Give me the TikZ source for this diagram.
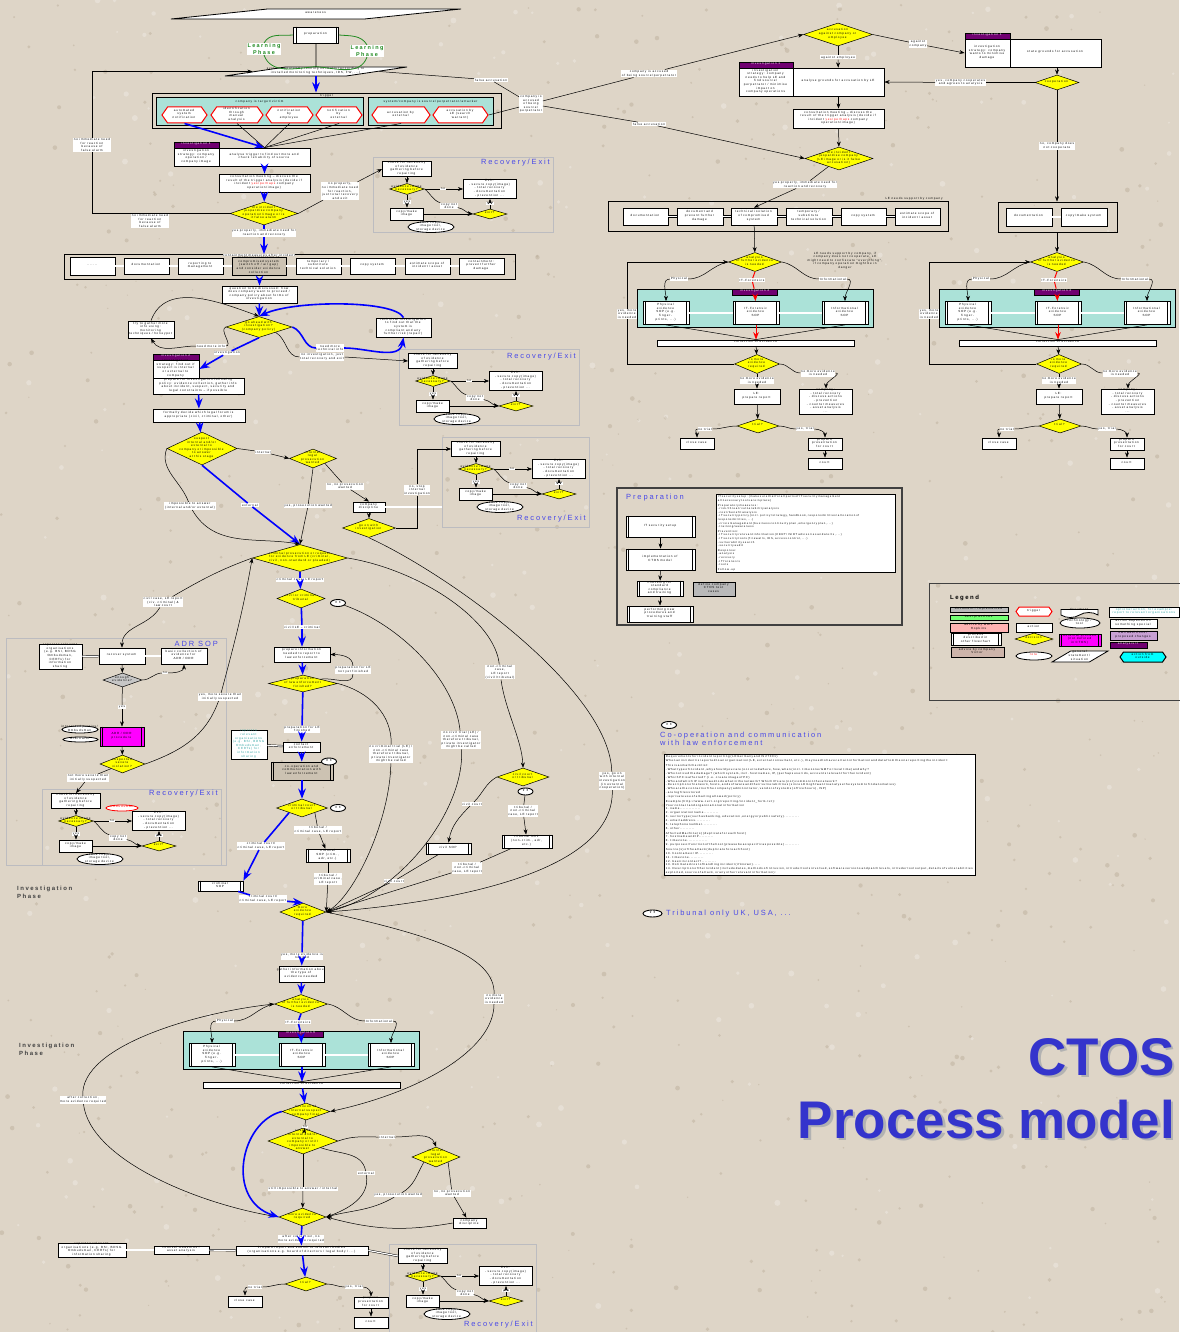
\documentclass[tikz,border=0pt]{standalone}
\usepackage{fontspec}
\setmainfont{Liberation Sans}[LetterSpace=25]
\newfontfamily\ctosfont{Liberation Sans}
\usepackage{tikz}
\usetikzlibrary{calc,arrows.meta,positioning,shapes.geometric,shapes.symbols,shapes.misc}
\definecolor{paper}{RGB}{222,213,199}
\definecolor{speck}{RGB}{186,172,152}
\definecolor{lagoon}{RGB}{171,226,216}
\definecolor{invhead}{RGB}{112,0,112}
\definecolor{ctosblue}{RGB}{52,52,204}
\definecolor{rxblue}{RGB}{72,72,232}
\definecolor{rxgray}{RGB}{188,188,192}
\definecolor{isolate}{RGB}{204,194,178}
\definecolor{learn}{RGB}{34,139,34}
\definecolor{optteal}{RGB}{40,160,160}
\definecolor{lilac}{RGB}{200,160,210}
\definecolor{victor}{RGB}{205,180,170}
\definecolor{decyellow}{RGB}{255,255,0}
\definecolor{procmag}{RGB}{255,0,255}
\definecolor{outside}{RGB}{0,255,255}

\newcommand\dia{\fontsize{3}{3.6}\selectfont}
% text inside a shape, kept out of its size (a 1pt strut keeps the shapes happy)
\newcommand\tx[1]{\smash{\makebox[0pt]{$\vcenter{\hbox{\begin{tabular}{@{}c@{}}#1\end{tabular}}}$}}\phantom{\rule{1pt}{1pt}}}

% recovery / exit block: name, x, y, width, height, title y
\newcommand\recovery[6]{%
  \begin{scope}[shift={({#2},{#3})}]
    \node[rxframe,wh={#4}{#5},anchor=north west] (#1) at (0,0) {};
    \node[rxtitle,anchor=east] (#1t) at ({#4-3},#6) {Recovery/Exit};
    \node[act,wh={49}{15}] (#1chk) at (34,12) {\tx{check for necessity\\of evidence\\gathering before\\repairing}};
    \node[dec,wh={35}{11}] (#1img) at (34,32) {\tx{evidence image\\necessary?}};
    \node[act,wh={53}{19}] (#1out) at (117,32) {\tx{Exit:\\- secure copy(image)\\- total recovery\\- documentation\\- prevention ...}};
    \node[act,wh={33}{12}] (#1cpy) at (34,57) {\tx{copy/make\\image}};
    \node[dec,wh={34}{10}] (#1ok) at (117,57) {\tx{exit?}};
    \node[tool,wh={46}{11}] (#1tool) at (58,70) {\tx{take copy/\\image tool,\\storage device}};
    \node[lbl] (#1no) at (70,32) {no};
    \node[lbl] (#1yes) at (34,45) {yes};
    \node[lbl] (#1nd) at (76,49) {copy not\\done};
    \node[lbl] (#1yx) at (117,46.5) {yes};
    \draw[cn,->] (#1chk) -- (#1img);
    \draw[cn] (#1img) -- (#1no);
    \draw[cn,->] (#1no) -- (#1out);
    \draw[cn] (#1img) -- (#1yes);
    \draw[cn,->] (#1yes) -- (#1cpy);
    \draw[cn] (#1img.east) to[out=-40,in=160] (#1nd);
    \draw[cn,->] (#1nd) to[out=-10,in=170] (#1ok.west);
    \draw[cn,->] (#1cpy) -- (#1ok);
    \draw[cn] (#1ok) -- (#1yx);
    \draw[cn,->] (#1yx) -- (#1out);
  \end{scope}}

% evidence analysis block: name, x, y, header, style of the middle line
\newcommand\analysis[5]{%
  \begin{scope}[shift={({#2},{#3})}]
    \node[pool,wh={236}{38}] (#1pool) at (0,46) {};
    \node[dec,wh={53}{19}] (#1) at (0,0) {\tx{analysis\\of further evidence\\is needed}};
    \node[ihead,wh={45}{6}] (#1h) at (0,30) {\tx{#4}};
    \node[sub,wh={46}{23}] (#1phy) at (-89,51) {\tx{Physical\\evidence\\SOP (e.g.\\finger-\\prints, ...)}};
    \node[sub,wh={46}{23}] (#1itf) at (1,51) {\tx{IT-Forensic\\evidence\\SOP}};
    \node[sub,wh={46}{23}] (#1inf) at (90,51) {\tx{Informational\\evidence\\SOP}};
    \node[act,wh={197}{6}] (#1col) at (1,81) {\tx{collection of evidence}};
    \node[lbl] (#1lp) at (-76,17) {Physical};
    \node[lbl] (#1li) at (-3,18) {IT-Forensics};
    \node[lbl] (#1ln) at (78,17) {Informational};
    \draw[cn] (#1.west) to[out=-170,in=0] (#1lp);
    \draw[cn,->] (#1lp.west) to[out=180,in=90] (#1phy.north);
    \draw[cn] (#1.east) to[out=-10,in=180] (#1ln);
    \draw[cn,->] (#1ln.east) to[out=0,in=90] (#1inf.north);
    \draw[#5] (#1.south) -- (#1li);
    \draw[#5] (#1li) -- (#1h);
    \draw[#5,->] (#1h) -- (#1itf);
    \draw[dbl] (#1phy) -- (#1itf);
    \draw[dbl] (#1itf) -- (#1inf);
    \draw[cn] (#1phy.south) -- (#1col.north);
    \draw[cn] (#1inf.south) -- (#1col.north);
    \draw[#5,->] (#1itf) -- (#1col);
  \end{scope}}

\begin{document}
\begin{tikzpicture}[x=1pt,y=-1pt,>=Stealth,font=\dia,
  wh/.style 2 args={minimum width=#1,minimum height=#2},
  act/.style={draw,fill=white,line width=0.8pt,inner sep=0pt},
  sub/.style={act,append after command={\pgfextra{\let\subnode\tikzlastnode}
      ([xshift=3pt]\subnode.north west) edge[line width=0.8pt] ([xshift=3pt]\subnode.south west)
      ([xshift=-3pt]\subnode.north east) edge[line width=0.8pt] ([xshift=-3pt]\subnode.south east)}},
  dec/.style={diamond,draw,fill=decyellow,line width=0.5pt,inner sep=0pt},
  par/.style={trapezium,trapezium left angle=45,trapezium right angle=135,
      trapezium stretches=true,draw,fill=white,line width=0.8pt,inner sep=0pt},
  trig/.style={signal,signal to=east and west,signal pointer angle=110,
      draw=red,line width=1pt,fill=white,inner sep=0pt},
  tool/.style={ellipse,draw,fill=white,line width=0.8pt,inner sep=0pt},
  face/.style={ellipse,draw,fill=white,line width=0.9pt,inner sep=0pt,wh={15}{7},
      font=\fontsize{4}{4}\selectfont\bfseries},
  pool/.style={draw,fill=lagoon,line width=1pt},
  frame/.style={draw,line width=0.9pt},
  ihead/.style={draw,fill=invhead,text=white,line width=0.6pt,inner sep=0pt},
  lbl/.style={fill=white,inner sep=0.6pt,align=center},
  cn/.style={line width=0.5pt},
  dbl/.style={double,double distance=1.2pt,line width=0.45pt},
  flow/.style={blue,line width=1.6pt},
  itline/.style={red,line width=1pt},
  rxframe/.style={draw=rxgray,line width=1pt},
  rxtitle/.style={text=rxblue,inner sep=0pt,font=\fontsize{7.5}{8}\selectfont},
  phase/.style={text=black!75,inner sep=0pt,align=left,font=\fontsize{6}{8}\selectfont\bfseries},
  note/.style={draw,fill=white,line width=0.8pt,inner sep=1.5pt,align=left,anchor=north west}
]
% paper
\fill[paper] (0,0) rectangle (1179,1332);
\useasboundingbox (0,0) rectangle (1179,1332);
\pgfmathsetseed{42}
\foreach \k in {1,...,700}
  \fill[speck,opacity=0.45] ({rnd*1179},{rnd*1332}) circle ({0.6+1.8*rnd});
\foreach \k in {1,...,300}
  \fill[white,opacity=0.25] ({rnd*1179},{rnd*1332}) circle ({1+2*rnd});

% ---------------- awareness and trigger
\node[par,wh={290}{10}] (aware) at (316,14) {\tx{awareness}};
\node[sub,wh={45}{16}] (prep) at (316,35) {\tx{preparation}};
\node[par,wh={182}{9}] (sys) at (316,71.5) {\tx{system apparently running normally (according to\\installed monitoring techniques, IDS, FW, ...)}};
\node[lbl,text=learn,font=\fontsize{5.5}{6.5}\selectfont\bfseries] (learnl) at (264,49) {Learning\\Phase};
\node[lbl,text=learn,font=\fontsize{5.5}{6.5}\selectfont\bfseries] (learnr) at (367,51) {Learning\\Phase};
\draw[learn,line width=0.8pt] (prep.west) to[out=185,in=60] (learnl.north);
\draw[learn,line width=0.8pt] (learnl.south) to[out=-70,in=185] (sys.north);
\draw[learn,line width=0.8pt] (prep.east) to[out=-5,in=120] (learnr.north);
\draw[learn,line width=0.8pt] (learnr.south) to[out=-110,in=-5] (sys.north);
\draw[line width=0.8pt] (prep) -- (sys);

\node[frame,wh={349}{35}] (trig) at (326.5,110.5) {};
\node[inner sep=0pt] (trigt) at (326.5,95.5) {trigger};
\node[pool,wh={207}{28}] (victim) at (259.5,112) {};
\node[inner sep=0pt] (victimt) at (259.5,102) {company is target/victim};
\node[pool,wh={125}{28}] (source) at (430.5,112) {};
\node[inner sep=0pt] (sourcet) at (430.5,102) {system/company is source/perpetrator/attacker};
\node[trig,wh={45}{16}] (h1) at (184.5,115) {\tx{automated\\system\\notification}};
\node[trig,wh={52}{16}] (h2) at (237,115) {\tx{identification\\through\\manual\\analysis}};
\node[trig,wh={47}{16}] (h3) at (289.5,115) {\tx{notification\\by\\employee}};
\node[trig,wh={46}{16}] (h4) at (339,115) {\tx{notification\\by\\external}};
\node[trig,wh={58}{16}] (h5) at (401,115) {\tx{accusation by\\external}};
\node[trig,wh={55}{16}] (h6) at (460.5,115) {\tx{accusation by\\LE (search\\warrant)}};

\node[ihead,wh={45}{6}] (i1h) at (196.5,145) {\tx{investigation 1}};
\node[act,wh={45}{18}] (i1s) at (196.5,157) {\tx{investigation\\strategy: company\\operation /\\company image}};
\node[act,wh={91}{18}] (trgana) at (264.5,157) {\tx{analyse trigger to find out more and\\check reliability of source}};
\node[act,wh={91}{18}] (cons) at (264.5,183) {\tx{consultation meeting -- discuss the\\result of the trigger analysis (decide if\\incident \textcolor{red}{yes/perhaps} company\\operation/image)}};
\node[dec,wh={68}{23}] (jeop) at (264,213.5) {\tx{the incident\\jeopardise company\\operation/image or is\\it false alarm}};

\recovery{r1}{373}{157}{180}{75}{6}
\recovery{r2}{399}{349}{180}{76}{8}
\recovery{r3}{442}{437}{147}{90}{82}
\recovery{r4}{42}{789}{179}{76}{5}
\recovery{r5}{389}{1244}{147}{90}{81}

\draw[flow,->] (sys.south) -- (sys.south |- trig.north);
\draw[flow,->] (h1.south) -- (trgana.north);
\foreach \h in {h2,h3,h4,h5} \draw[cn] (\h.south) -- (trgana.north);
\draw[flow,->] (trgana) -- (cons);
\draw[flow,->] (cons) -- (jeop);

\node[lbl] (lfa1) at (92,145) {no immediate need\\for reaction\\because of\\false alarm};
\node[lbl] (lfa2) at (150,221) {no immediate need\\for reaction\\because of\\false alarm};
\draw[cn] (jeop.west) -| (lfa1);
\draw[cn,->] (lfa1) |- (sys.west);
\node[lbl] (lno1) at (340,191) {no properly,\\no immediate need\\for reaction,\\just total recovery\\and exit};
\draw[cn] (jeop.east) -- (lno1);
\draw[cn,->] (lno1) -- (r1chk.west);
\node[lbl] (lyes1) at (264,233) {yes properly, immediate need for\\reaction and recovery};
\draw[flow] (jeop) -- (lyes1);

% ---------------- containment row
\node[frame,wh={451}{25}] (row) at (289.5,267) {};
\node[lbl,inner sep=0.3pt] (rowt) at (259,255) {containment measures after incident};
\draw[flow,->] (lyes1) -- (lyes1 |- row.north);
\node[act,wh={45}{18}] (rb0) at (92.5,266) {\tx{.......}};
\node[act,wh={45}{16}] (rb1) at (146.5,266) {\tx{documentation}};
\node[act,wh={45}{16}] (rb2) at (200.5,266) {\tx{reporting to\\management}};
\node[act,fill=isolate,wh={54}{18}] (rb3) at (259,266) {\tx{technical isolation of\\compromised system\\(switch off / air gap)\\and consider evidence\\collection}};
\node[act,wh={45}{16}] (rb4) at (318.5,266) {\tx{temporary /\\substitute\\technical solution}};
\node[act,wh={45}{16}] (rb5) at (372.5,266) {\tx{copy system}};
\node[act,wh={45}{16}] (rb6) at (427.5,266) {\tx{estimate scope of\\incident / asset}};
\node[act,wh={45}{16}] (rb7) at (481.5,266) {\tx{containment:\\prevent further\\damage}};
\foreach \a/\b in {rb0/rb1,rb1/rb2,rb2/rb3,rb3/rb4,rb4/rb5,rb5/rb6,rb6/rb7}
  \draw[dbl] (\a) -- (\b);

% ---------------- policy and investigation 2
\node[act,wh={75}{17}] (quest) at (259.5,294.5) {\tx{question to be discussed: how\\does company want to proceed /\\company policy about forms of\\investigation}};
\draw[flow,->] (row.south -| quest) -- (quest.north);
\node[dec,wh={66}{21}] (ahead) at (259,327) {\tx{go ahead with\\investigation?\\(company policy)}};
\draw[flow,->] (quest) -- (ahead);
\node[act,wh={46}{17}] (gather) at (151,329.5) {\tx{try to gather more\\info using:\\monitoring\\techniques / honeypot}};
\node[lbl] (lmore) at (211,346) {need more info};
\draw[cn,->] (gather.north) to[out=70,in=160] (ahead.north);
\draw[cn] (ahead.west) to[out=200,in=0] (lmore);
\draw[cn,->] (lmore) to[out=180,in=-60] (gather.south);
\node[act,wh={55}{19}] (techinv) at (403.5,327.5) {\tx{technical investigation\\to find out that the\\system is\\compliant and any\\further risk (repair)}};
\node[lbl] (lmoret) at (330,348) {need more\\technical info};
\draw[flow] (ahead.east) to[out=-20,in=180] (lmoret);
\draw[flow,->] (lmoret) to[out=0,in=-100] (techinv.south);
\draw[flow,->] (techinv.north) .. controls (395,300) and (295,300) .. (ahead.north);
\node[lbl] (lnoinv) at (322,357) {no investigation, just\\total recovery and exit};
\draw[cn] (ahead.south east) to[out=-30,in=180] (lnoinv);
\draw[cn,->] (lnoinv.east) -- (r2chk.west);
\node[lbl] (linv) at (227,353) {investigation};
\draw[flow] (ahead.south) -- (linv);

\node[ihead,wh={46}{6}] (i2h) at (176,357) {\tx{investigation 2}};
\node[act,wh={46}{18}] (i2s) at (176,369) {\tx{investigation\\strategy: find out if\\suspect is internal\\or external to\\company}};
\node[act,wh={91}{16}] (i2p) at (198.5,386) {\tx{prepare for investigation following\\policy: evidence collection, gather info\\about incident, suspect, security and\\legal constraints -- if possible}};
\draw[flow,->] (linv) -- (i2s.east);
\node[act,wh={92}{13}] (forum) at (199,415.5) {\tx{formally decide which legal forum is\\appropriate (civil, criminal, other)}};
\draw[flow,->] (i2p) -- (forum);
\node[dec,wh={70}{33}] (susp) at (202,448.5) {\tx{suspect\\internal and/or\\external to\\company or impossible\\to answer\\at this stage}};
\draw[flow,->] (forum) -- (susp);
\node[lbl] (lint) at (263,452) {internal};
\node[dec,wh={47}{19}] (ilp) at (313,458.5) {\tx{internal\\legal\\prosecution\\wanted}};
\draw[cn] (susp.east) -- (lint);
\draw[cn,->] (lint) -- (ilp.west);
\node[lbl] (lnopros) at (345,486) {no, no prosecution\\wanted};
\node[act,wh={32}{10}] (disc) at (369,507) {\tx{company\\discipline}};
\draw[cn] (ilp.south east) -- (lnopros);
\draw[cn,->] (lnopros) -- (disc.north);
\node[dec,wh={53}{19}] (goon) at (369,528) {\tx{go on with\\investigation}};
\draw[cn,->] (disc) -- (goon);
\draw[dbl] (disc.east) -- (disc.east -| r3.west);
\node[lbl] (lstop) at (417,490) {no, stop\\internal\\investigation};
\draw[cn] (goon.east) -| (lstop);
\draw[cn,->] (lstop) |- (r3chk.west);

% ---------------- prosecution and law enforcement
\node[dec,wh={95}{27}] (crim) at (300,558) {\tx{criminal prosecution or request\\for evidence from LE (criminal,\\civil, non-standard or pleaded)}};
\node[lbl] (lext) at (250,505) {external};
\draw[flow] (susp.south) -- (lext);
\draw[flow,->] (lext) -- (crim.north);
\node[lbl] (limp) at (190,506) {impossible to answer\\(internal and/or external)};
\draw[cn] (susp.west) to[out=-110,in=110] (limp);
\draw[cn,->] (limp) to[out=-60,in=170] (crim.north);
\node[lbl] (lyespros) at (308,506) {yes, prosecution wanted};
\draw[cn] (ilp.south) -- (lyespros);
\draw[cn,->] (lyespros) -- (crim.north);

\node[lbl] (lcrim1) at (300,580) {criminal case, LE report};
\node[dec,wh={48}{19}] (trib) at (301,598.5) {\tx{civil or criminal\\tribunal}};
\node[face] (s1) at (338,603) {* *};
\draw[flow] (crim) -- (lcrim1);
\draw[flow,->] (lcrim1) -- (trib);
\node[lbl] (lcivle) at (302,627) {civil/LE -- criminal};
\node[act,wh={56}{15}] (lerep) at (302,654.5) {\tx{prepare information\\needed to report to\\law enforcement}};
\draw[flow] (trib) -- (lcivle);
\draw[flow,->] (lcivle) -- (lerep);
\node[dec,wh={69}{17}] (lefin) at (303,683.5) {\tx{preparation\\of law enforcement\\finished?}};
\draw[flow,->] (lerep) -- (lefin);
\node[lbl] (lnotfin) at (353,670) {preparation for LE\\not yet finished};
\draw[cn] (lefin.north east) to[out=10,in=-90] (lnotfin);
\draw[cn,->] (lnotfin) to[out=90,in=0] (lerep.east);
\node[lbl] (lfin) at (302,729) {preparation for LE\\finished};
\node[act,wh={37}{10}] (contact) at (301.5,747) {\tx{contact\\enforcement}};
\draw[flow] (lefin) -- (lfin);
\draw[flow,->] (lfin) -- (contact);
\node[act,text=optteal,wh={36}{29}] (optrep) at (249,744.5) {\tx{report to\\relevant\\organisations\\(e.g. BSI, BDSG\\Ombudsman,\\CERTs) for\\information\\sharing}};
\draw[dbl] (optrep) -- (contact);
\node[sub,fill=isolate,wh={62}{18}] (coop) at (302,771) {\tx{co-operation and\\communication with\\law enforcement}};
\node[face] (s2) at (329,761.5) {* *};
\draw[flow,->] (contact) -- (coop);
\node[dec,wh={51}{18}] (ccourt) at (302,808) {\tx{criminal court\\or tribunal}};
\node[face] (s3) at (338,808) {* *};
\draw[flow,->] (coop) -- (ccourt);
\node[lbl] (lcc) at (261,846) {criminal court/\\criminal case, LE report};
\node[sub,wh={45}{10}] (crimsop) at (220.5,886) {\tx{criminal\\SOP}};
\draw[flow] (ccourt.south west) -- (lcc);
\draw[flow,->] (lcc) -- (crimsop.north east);
\node[lbl] (ltrib) at (318,830) {tribunal /\\criminal case, LE report};
\node[sub,wh={44}{13}] (tribsop) at (328,855.5) {\tx{tribunal\\SOP (crim.,\\adr, etc.)}};
\draw[cn] (ccourt.south east) -- (ltrib);
\draw[cn,->] (ltrib) -- (tribsop);
\node[dec,wh={46}{18}] (mev) at (303,912) {\tx{more\\evidence\\required}};
\node[lbl] (ltrib2) at (328,879) {tribunal /\\criminal case,\\LE report};
\draw[cn] (tribsop) -- (ltrib2);
\draw[cn,->] (ltrib2) -- (mev.east);
\node[lbl] (lcc2) at (263,899) {criminal court/\\criminal case, LE report};
\draw[flow] (crimsop) -- (lcc2);
\draw[flow,->] (lcc2) -- (mev.north);

% civil and tribunal branches
\node[lbl] (lnoncrim) at (500,672) {non-criminal\\case,\\LE report\\(civil/tribunal)};
\node[dec,wh={52}{18}] (civ) at (523,777) {\tx{civil court\\or tribunal}};
\node[face] (s4) at (525.5,791.5) {* *};
\draw[cn] (crim.east) .. controls (420,570) and (495,620) .. (lnoncrim);
\draw[cn,->] (lnoncrim) .. controls (505,710) and (522,740) .. (civ.north);
\node[lbl] (lcivil) at (472,804) {civil court};
\node[sub,wh={45}{11}] (civsop) at (448.5,848.5) {\tx{civil SOP}};
\draw[cn] (civ.west) to[out=-150,in=45] (lcivil);
\draw[cn,->] (lcivil) to[out=-135,in=80] (civsop.north);
\node[lbl] (ltrib4) at (523,811) {tribunal /\\non-criminal\\case, LE report};
\node[sub,wh={50}{13}] (tribsop2) at (527,841.5) {\tx{tribunal SOP\\(non-crim., adr,\\etc.)}};
\draw[cn] (s4) -- (ltrib4);
\draw[cn,->] (ltrib4) -- (tribsop2);
\node[lbl] (lcivil2) at (394,881) {civil court};
\draw[cn] (civsop) -- (lcivil2);
\draw[cn,->] (lcivil2) -- (mev.east);
\node[lbl] (ltrib3) at (467,868) {tribunal /\\non-criminal\\case, LE report};
\draw[cn] (tribsop2) -- (ltrib3);
\draw[cn,->] (ltrib3) -- (mev.east);
\node[lbl] (lnoc1) at (461,740) {no civil trial (LE) /\\non-criminal case\\therefore tribunal,\\private investigator\\might be called};
\draw[cn] (s1) .. controls (400,625) and (455,680) .. (lnoc1);
\draw[cn,->] (lnoc1) .. controls (465,810) and (400,895) .. (mev.east);
\node[lbl] (lnoc2) at (391,754) {no criminal trial (LE) /\\non-criminal case\\therefore tribunal,\\private investigator\\might be called};
\draw[cn] (lefin.east) .. controls (370,692) and (392,715) .. (lnoc2);
\draw[cn,->] (lnoc2) .. controls (390,820) and (355,895) .. (mev.east);
\node[lbl] (lgoon) at (612,781) {yes, go on\\with internal\\investigation\\(in external\\cooperation)};
\draw[cn] (goon.south) .. controls (450,575) and (610,690) .. (lgoon);
\draw[cn,->] (lgoon) .. controls (615,880) and (420,905) .. (mev.east);

% ---------------- ADR
\node[rxframe,wh={220}{227},anchor=north west] (adr) at (6,638) {};
\node[rxtitle,anchor=east] (adrt) at (218,644) {ADR SOP};
\node[act,wh={43}{25}] (adrrep) at (60.5,656.5) {\tx{report to relevant\\organisations\\(e.g. BSI, BDSG\\Ombudsman,\\CERTs) for\\information\\sharing}};
\node[act,wh={46}{16}] (recsys) at (122,656) {\tx{recover system}};
\node[act,wh={46}{16}] (basic) at (184,656) {\tx{basic collection of\\evidence for\\ADR / ODR}};
\node[dec,fill=gray!45,wh={39}{14}] (enough) at (122.5,680) {\tx{enough\\evidence?}};
\node[lbl] (lno2) at (165,673) {no};
\node[lbl] (lyes2) at (122,707) {yes};
\node[tool,wh={36}{7}] (party) at (80,729.5) {\tx{interested parties/\\Ombudsman}};
\node[tool,wh={35}{5}] (arb) at (80.5,739.5) {\tx{Arbitrator}};
\node[sub,fill=procmag,wh={44}{19}] (adrp) at (122,736.5) {\tx{ADR / ODR\\procedure}};
\node[dec,wh={45}{18}] (severe) at (122.5,764) {\tx{suspected\\severe\\violation?}};
\node[lbl] (lsev) at (220,697) {yes, more severe than\\initially suspected};
\node[lbl] (lnsev) at (88,778) {not more severe than\\initially suspected};
\node[lbl] (lcivcase) at (163,602) {civil case, LE report\\(civ. criminal) \&\\law court};
\node[tool,draw=red,text=red,wh={32}{6}] (ombud) at (122,808) {\tx{Ombudsman}};
\draw[dbl] (adrrep) -- (recsys);
\draw[dbl] (recsys) -- (basic);
\draw[cn,->] (recsys) -- (enough);
\draw[cn] (enough.east) to[out=0,in=180] (lno2);
\draw[cn,->] (lno2) to[out=0,in=-90] (basic.south);
\draw[cn] (enough) -- (lyes2);
\draw[cn,->] (lyes2) -- (adrp);
\draw[cn,->] (adrp) -- (severe);
\draw[cn] (severe.east) to[out=20,in=-110] (lsev);
\draw[cn,->] (lsev) to[out=75,in=-100] (crim.west);
\draw[cn] (crim.west) to[out=200,in=30] (lcivcase);
\draw[cn,->] (lcivcase) to[out=-120,in=90] (recsys.north);
\draw[cn] (severe.south west) -- (lnsev);
\draw[cn,->] (lnsev) -- (r4chk.north);

\node[phase,anchor=west] (ph1) at (17,892) {Investigation\\Phase};
\node[phase,anchor=west] (ph2) at (19,1049) {Investigation\\Phase};

% ---------------- evidence and report
\node[lbl] (lmore2) at (302,956) {yes, more evidence is\\needed};
\node[act,wh={45}{16}] (gather2) at (301.5,974) {\tx{gather information about\\the type of\\evidence needed}};
\draw[flow] (mev) -- (lmore2);
\draw[flow,->] (lmore2) -- (gather2);
\analysis{evC}{301}{1004}{investigation 6}{flow}
\draw[flow,->] (gather2) -- (evC);
\node[dec,wh={48}{17}] (decide) at (306,1111.5) {\tx{decision of\\internal suspect\\company final}};
\draw[flow,->] (evCcol) -- (decide);
\node[lbl] (lnomore) at (494,999) {no more\\evidence\\is needed};
\draw[cn] (mev.east) .. controls (430,935) and (495,955) .. (lnomore);
\draw[cn,->] (lnomore) .. controls (494,1050) and (420,1092) .. (decide.east);
\node[lbl] (lno3) at (305,1127) {no};
\node[dec,wh={70}{26}] (susp2) at (303,1141) {\tx{suspect\\internal and/or\\external to\\company or still\\impossible to\\answer}};
\draw[cn] (decide) -- (lno3);
\draw[cn,->] (lno3) -- (susp2);
\node[dec,wh={47}{18}] (mev2) at (302.5,1217) {\tx{more evidence\\required}};
\node[lbl] (lafter) at (83,1100) {after collection,\\more evidence required};
\draw[cn] (mev2.west) .. controls (200,1205) and (90,1160) .. (lafter);
\draw[cn,->] (lafter) .. controls (80,1045) and (200,1012) .. (evC.west);
\draw[flow,->] (decide.west) .. controls (240,1122) and (225,1200) .. (mev2.west);
\node[lbl] (lint2) at (387,1137) {internal};
\node[dec,wh={48}{20}] (ilp2) at (436,1157) {\tx{internal\\legal\\prosecution\\wanted}};
\draw[cn] (susp2.east) to[out=20,in=180] (lint2);
\draw[cn,->] (lint2) to[out=0,in=110] (ilp2.north);
\node[lbl] (lext2) at (366,1173) {external};
\draw[cn] (susp2.south east) to[out=-20,in=100] (lext2);
\draw[cn,->] (lext2) to[out=-80,in=20] (mev2.east);
\node[lbl] (lyes3) at (398,1195) {yes, prosecution wanted};
\draw[cn] (ilp2.south west) to[out=-120,in=30] (lyes3);
\draw[cn,->] (lyes3) to[out=-150,in=15] (mev2.east);
\node[lbl] (lno4) at (452,1193) {no, no prosecution\\wanted};
\node[act,wh={33}{10}] (disc2) at (469.5,1223) {\tx{company\\discipline}};
\draw[cn] (ilp2.south east) -- (lno4);
\draw[cn,->] (lno4) -- (disc2);
\draw[cn,->] (disc2.west) to[out=190,in=-15] (mev2.east);
\node[lbl] (lstill) at (303,1189) {still impossible to answer / internal};
\draw[cn] (susp2) -- (lstill);
\draw[cn,->] (lstill) -- (mev2);

\node[lbl] (lafter2) at (301,1239) {after collection, no\\more evidence required};
\node[act,wh={132}{9}] (report) at (302,1250.5) {\tx{Prepare report and submit to relevant bodies\\(organisations e.g. board of directors / legal body / ...)}};
\draw[flow] (mev2) -- (lafter2);
\draw[flow,->] (lafter2) -- (report);
\node[act,wh={55}{8}] (counsel) at (181.5,1250) {\tx{counsel measures /\\asset analysis}};
\node[act,wh={68}{14}] (optrep3) at (92,1250) {\tx{report to relevant\\organisations (e.g. BSI, BDSG\\Ombudsman, CERTs) for\\information sharing}};
\draw[dbl] (report) -- (counsel);
\draw[dbl] (counsel) -- (optrep3);
\draw[dbl] (report.east) -- (r5chk.west);
\node[dec,wh={42}{14}] (court3) at (306,1284) {\tx{trial?}};
\draw[flow,->] (report) -- (court3);
\node[lbl] (lnotrial) at (255,1287) {no trial};
\node[act,wh={34}{11}] (close3) at (245,1301.5) {\tx{close case}};
\node[lbl] (ltrial) at (354,1287) {yes, trial};
\node[act,wh={34}{11}] (pres3) at (371,1302.5) {\tx{prepare\\presentation\\for court}};
\node[act,wh={34}{11}] (cout3) at (371,1322.5) {\tx{court}};
\draw[cn] (court3.west) to[out=180,in=0] (lnotrial);
\draw[cn,->] (lnotrial.west) to[out=180,in=90] (close3.north);
\draw[cn] (court3.east) to[out=0,in=180] (ltrial);
\draw[cn,->] (ltrial.east) to[out=0,in=90] (pres3.north);
\draw[cn,->] (pres3) -- (cout3);

% ---------------- accusation against the company
\node[dec,wh={69}{23}] (accdia) at (838,34.5) {\tx{accusation\\against company or\\employee}};
\node[lbl] (lemp) at (838,57.5) {against employee};
\node[ihead,wh={54}{6}] (leih) at (766,65) {\tx{investigation 1}};
\node[act,wh={54}{28}] (leis) at (766,82) {\tx{investigation\\strategy: company\\needs to help LE and\\find source/\\perpetrator / minimise\\impact on\\company operations}};
\node[act,wh={91}{28}] (leana) at (838.5,82) {\tx{analyse grounds for accusation by LE}};
\draw[cn] (accdia) -- (lemp);
\draw[cn,->] (lemp) -- (leana);
\node[lbl] (lcomp) at (918,44) {against\\company};
\node[ihead,wh={45}{6}] (rinvh) at (987.5,36) {\tx{investigation 1}};
\node[act,wh={45}{28}] (rinvs) at (987.5,53) {\tx{investigation\\strategy: company\\wants to minimise\\damage}};
\node[act,wh={91}{28}] (rgrd) at (1055.5,53) {\tx{state grounds for accusation}};
\draw[cn] (accdia.east) -- (lcomp);
\draw[cn,->] (lcomp) -- (rinvs.west);
\node[dec,wh={44}{15}] (cooper) at (1057,82.5) {\tx{cooperation}};
\draw[cn,->] (rgrd.south -| cooper) -- (cooper);
\node[lbl] (lcoop) at (960.5,82.5) {yes, company cooperates\\and agrees to analysis};
\draw[cn] (cooper) -- (lcoop);
\draw[cn,->] (lcoop) -- (leana.east);
\node[act,wh={91}{19}] (lecons) at (838.5,118.5) {\tx{consultation meeting -- discuss the\\result of the trigger analysis (decide if\\incident \textcolor{red}{yes/perhaps} company\\operation/image)}};
\draw[cn,->] (leana) -- (lecons);
\node[dec,wh={68}{23}] (ledia) at (839,158.5) {\tx{the incident\\jeopardise company\\(LE image or is it false\\accusation)}};
\draw[cn,->] (lecons) -- (ledia);

\node[lbl] (lfalse1) at (491,80) {false accusation};
\node[lbl] (lacc) at (531,104) {company is\\accused\\of being\\source/\\perpetrator};
\node[lbl] (lfalse2) at (649,124) {false accusation};
\node[lbl] (lacc2) at (649,73.5) {company is accused\\of being source/perpetrator};
\draw[cn] (sys.east) -- (lfalse1);
\draw[cn] (lfalse1) -- (lacc);
\draw[cn] (lacc) -- (lfalse2);
\draw[cn,->] (lfalse2) -- (ledia.west);
\draw[cn] (h6.east) -- (lacc);
\draw[cn] (lacc) -- (lacc2);
\draw[cn,->] (lacc2) -- (accdia.west);

\node[frame,wh={340}{30}] (lrow) at (778,216) {};
\node[inner sep=0pt] (lesup) at (914,199) {LE needs support by company};
\node[act,wh={45}{17}] (lrb0) at (645.5,216.5) {\tx{documentation}};
\node[act,wh={46}{17}] (lrb1) at (700,216.5) {\tx{document and\\prevent further\\damage}};
\node[act,wh={46}{17}] (lrb2) at (754,216.5) {\tx{technical isolation\\of compromised\\system}};
\node[act,wh={46}{17}] (lrb3) at (809,216.5) {\tx{temporary /\\substitute\\technical solution}};
\node[act,wh={45}{17}] (lrb4) at (863.5,216.5) {\tx{copy system}};
\node[act,wh={45}{17}] (lrb5) at (917.5,216.5) {\tx{estimate scope of\\incident / asset}};
\foreach \a/\b in {lrb0/lrb1,lrb1/lrb2,lrb2/lrb3,lrb3/lrb4,lrb4/lrb5}
  \draw[dbl] (\a) -- (\b);
\node[lbl] (lyesle) at (805,184.5) {yes properly, immediate need for\\reaction and recovery};
\draw[cn] (ledia) -- (lyesle);
\draw[cn,->] (lyesle) -- (lrb2.north);
\node[frame,wh={119}{30}] (rrow) at (1057.5,217) {};
\node[act,wh={46}{18}] (rrb0) at (1029,217) {\tx{documentation}};
\node[act,wh={46}{18}] (rrb1) at (1084,217) {\tx{copy/make system}};
\draw[dbl] (rrb0) -- (rrb1);
\node[lbl] (lncoop) at (1057,146) {no, company does\\not cooperate};
\draw[cn] (cooper) -- (lncoop);
\draw[cn,->] (lncoop) -- (lncoop |- rrow.north);
\node[inner sep=0pt,align=center] (lenote) at (845,260.5) {LE needs support by company, if\\company does not cooperate, LE\\might need to confiscate ``everything'',\\if company operation might be in\\danger};

\foreach \i/\dx in {A/0,B/302}{
  \analysis{ev\i}{755+\dx}{262}{investigation 4}{itline}
  \node[dec,wh={45}{19}] (mev\i) at ({757+\dx},364) {\tx{is more\\evidence\\required}};
  \node[lbl] (lym\i) at ({627+\dx},314) {yes, more\\evidence\\is needed};
  \node[lbl] (lnm\i) at ({757+\dx},380.5) {no more evidence\\is needed};
  \node[lbl] (lnc\i) at ({818+\dx},373) {no more evidence\\is needed};
  \node[act,wh={46}{15}] (rep\i) at ({757+\dx},396.5) {\tx{LE:\\prepare report}};
  \node[act,wh={53}{25}] (comp\i) at ({826+\dx},401.5) {\tx{company:\\- total recovery\\- discuss actions\\- prevention\\- counter measures\\- asset analysis\\...}};
  \node[dec,wh={42}{14}] (trial\i) at ({758+\dx},426) {\tx{trial?}};
  \node[lbl] (lnt\i) at ({705+\dx},429) {no trial};
  \node[lbl] (lyt\i) at ({805+\dx},429) {yes, trial};
  \node[act,wh={34}{11}] (close\i) at ({697+\dx},443.5) {\tx{close case}};
  \node[act,wh={34}{12}] (pres\i) at ({825+\dx},444) {\tx{prepare\\presentation\\for court}};
  \node[act,wh={34}{11}] (court\i) at ({825+\dx},463.5) {\tx{court}};
  \draw[cn,->] (ev\i col) -- (mev\i);
  \draw[cn] (mev\i.west) -| (lym\i);
  \draw[cn,->] (lym\i) |- (ev\i.west);
  \draw[cn] (mev\i) -- (lnm\i);
  \draw[cn,->] (lnm\i) -- (rep\i);
  \draw[cn] (mev\i.east) to[out=0,in=180] (lnc\i);
  \draw[cn,->] (lnc\i.east) to[out=0,in=90] (comp\i.north);
  \draw[cn,->] (rep\i) -- (trial\i);
  \draw[cn] (trial\i.west) to[out=180,in=0] (lnt\i);
  \draw[cn,->] (lnt\i.west) to[out=180,in=90] (close\i.north);
  \draw[cn] (trial\i.east) to[out=0,in=180] (lyt\i);
  \draw[cn,->] (lyt\i.east) to[out=0,in=90] (pres\i.north);
  \draw[cn,->] (pres\i) -- (court\i);
}
\draw[cn,->] (lrb2) -- (evA);
\draw[cn,->] (rrow.south -| evB) -- (evB);

% ---------------- preparation
\node[frame,draw=black!75,line width=1.2pt,wh={285}{137}] (prepbox) at (759.5,556.5) {};
\node[rxtitle,anchor=west] (prept) at (626,498) {Preparation};
\node[note,text width=176pt,font=\fontsize{2.7}{3.6}\selectfont] (preptxt) at (716,494) {IT security setup: (make sure that for all parts of IT security management\\all necessary tools are in place)\\[1pt]
Preparatory measures:\\- risk / threat / vulnerability analysis\\- cost / benefit analysis\\- IT security policy (incl. policy/strategy, handbook, responsibilities/allocation of\\responsibilities, ...)\\- crisis management (business continuity plan, emergency plan, ...)\\- training/awareness\\[1pt]
Prevention:\\- IT security relevant information (CERT/ISIRT advisories and alerts, ...)\\- IT security tools (firewalls, IDS, access control, ...)\\- vulnerability search\\- security audit\\[1pt]
Response:\\- analysis\\- recovery\\- IT forensics\\- tools\\[1pt]
Follow-up};
\node[sub,wh={69}{21}] (secup) at (660.5,526.5) {\tx{IT security setup}};
\node[sub,wh={69}{21}] (implm) at (660.5,559.5) {\tx{implementation of\\CTOS model}};
\node[sub,wh={46}{15}] (chkstd) at (660,588.5) {\tx{checking for\\standard\\compliance\\and training}};
\node[act,fill=gray!55,wh={42}{14}] (testc) at (714,589) {\tx{define company\\CTOS test\\cases}};
\node[sub,wh={66}{16}] (perf) at (660,614) {\tx{performing new\\procedures and\\training staff}};
\draw[cn,->] (secup) -- (implm);
\draw[cn,->] (implm) -- (chkstd);
\draw[cn,->] (chkstd) -- (perf);

% ---------------- legend
\node[frame,draw=black!75,line width=1.2pt,wh={262}{117},anchor=north west] (legend) at (929,583) {};
\node[anchor=west,inner sep=0pt,font=\fontsize{6}{7}\selectfont\bfseries] (legt) at (950,598) {Legend};
\node[act,fill=gray!55,wh={58}{5}] (lg1) at (979,609.5) {\tx{document / implemented}};
\node[act,fill=green!55,wh={58}{5}] (lg2) at (979,617.5) {\tx{best practices}};
\node[act,fill=red!30,wh={58}{9}] (lg3) at (979,627.5) {\tx{advice by Mark\\Hopkins}};
\node[sub,wh={50}{12}] (lg4) at (976,639) {\tx{process\\described in\\other flowchart}};
\node[act,fill=victor,wh={53}{10}] (lg5) at (977.5,652) {\tx{advice by company\\Victor}};
\node[trig,wh={36}{9}] (lg6) at (1034,611.5) {\tx{trigger}};
\node[act,wh={36}{9}] (lg7) at (1034,627.5) {\tx{action}};
\node[dec,wh={38}{12}] (lg8) at (1034,639) {\tx{decision}};
\node[tool,text=red,wh={36}{8}] (lg9) at (1034,656) {\tx{role}};
\node[tape,tape bend top=none,draw,fill=white,line width=0.8pt,inner sep=0pt,wh={37}{8}] (lg10) at (1079.5,611) {\tx{document}};
\node[tool,wh={40}{10}] (lg11) at (1080,623) {\tx{technology /\\tool}};
\node[sub,fill=procmag,wh={42}{12}] (lg12) at (1080,640) {\tx{external process\\(not defined\\in CTOS)}};
\node[par,wh={56}{11}] (lg13) at (1080,656.5) {\tx{general\\statement /\\situation}};
\node[act,text=optteal,wh={70}{10},anchor=west] (lg14) at (1109,612) {\tx{optional action, for example:\\report to relevant organisations}};
\node[act,wh={47}{9}] (lg15) at (1133.5,623.5) {\tx{action depends on\\something special}};
\node[act,fill=lilac,wh={47}{9}] (lg16) at (1133.5,635.5) {\tx{own additions /\\proposed changes}};
\node[ihead,wh={37}{6}] (lg17) at (1128.5,645) {\tx{analysis II}};
\node[trig,draw=black,fill=outside,wh={46}{10}] (lg18) at (1143,657) {\tx{action from\\outside}};

% ---------------- co-operation with law enforcement
\node[face] (s5) at (669,725) {* *};
\node[rxtitle,anchor=north west,align=left] (copt) at (660,732) {Co-operation and communication\\with law enforcement};
\node[note,text width=308pt,font=\fontsize{2.8}{3.85}\selectfont] (coptxt) at (664,754) {Requirements for incident reporting (LE Germany and IS 27001)\\
When an incident is reported to an organisation (LE, external consultant, etc.), they need to have certain information and data from the one reporting the incident:\\[1pt]
This is a small checklist:\\
- What type of incident, why should you care (occurred where, how, when (incl. time zone/GMT or local time) and why?\\
- Who noticed the damage? (which system, incl. host names, IP, (perhaps user ids, accounts relevant for the incident)\\
- Which PC is affected? (i.e. create image of PC)\\
- Who and which IP is allowed to do what in the network? Which IPs are (not) common in the network?\\
- Description of network, hosts, and software and their vulnerabilities (since LE might want to analyse the system to find anomalies)\\
- Who are the contacts of the company (administrator, vendor of systems (office hours), ISP)\\
- are logfiles stored\\
- is private use of emailing allowed (policy)\\[1pt]
Example (http://www.cert.org/reporting/incident\_form.txt):\\
Your contact and organizational information\\
1. name..............\\
2. organization name..........\\
3. sector type (such as banking, education, energy or public safety)..........\\
4. email address..........\\
5. telephone number..........\\
6. other..........\\[1pt]
Affected Machine(s) (duplicate for each host)\\
7. hostname and IP..........\\
8. timezone..............\\
9. purpose or function of the host (please be as specific as possible)..........\\[1pt]
Source(s) of the attack (duplicate for each host)\\
10. hostname or IP..........\\
11. timezone..........\\
12. been in contact?..........\\
13. Estimated cost of handling incident (if known).....\\
14. Description of the incident (include dates, methods of intrusion, intruder tools involved, software versions and patch levels, intruder tool output, details of vulnerabilities exploited, source of attack, or any other relevant information):};
\node[face,wh={19}{7}] (s6) at (652.5,913.5) {* *};
\node[rxtitle,anchor=west] (tribt) at (666,914) {Tribunal only UK, USA, ...};

% ---------------- title
\node[text=black!30,anchor=base east,inner sep=0pt,font=\ctosfont\fontsize{53}{60}\selectfont\bfseries] (ctossh) at (1177.5,1077.5) {CTOS};
\node[text=ctosblue,anchor=base east,inner sep=0pt,font=\ctosfont\fontsize{53}{60}\selectfont\bfseries] (ctos) at (1175,1075) {CTOS};
\node[text=black!30,anchor=base east,inner sep=0pt,font=\ctosfont\fontsize{53}{60}\selectfont\bfseries] (procsh) at (1177.5,1140.5) {Process model};
\node[text=ctosblue,anchor=base east,inner sep=0pt,font=\ctosfont\fontsize{53}{60}\selectfont\bfseries] (proc) at (1175,1138) {Process model};
\end{tikzpicture}
\end{document}
